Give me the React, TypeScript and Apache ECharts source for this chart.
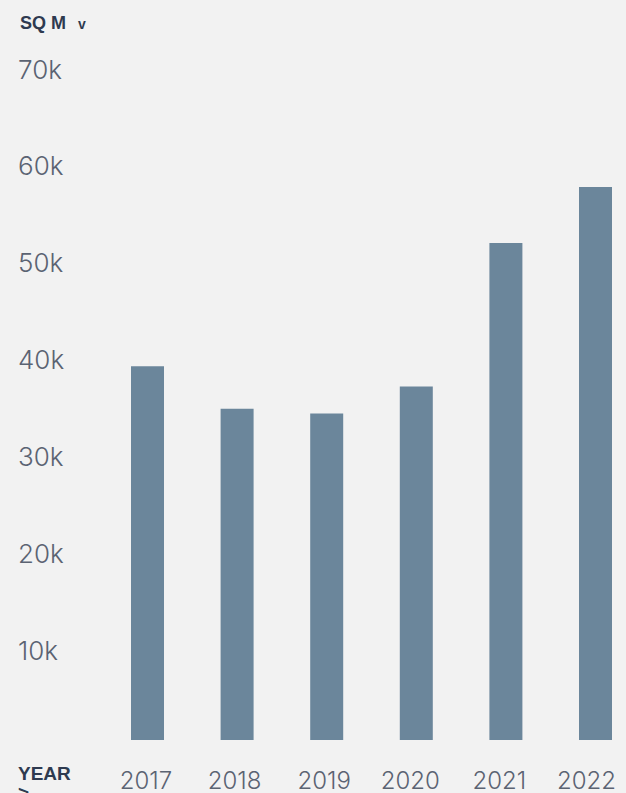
import React, { useEffect, useRef } from "react";
import * as echarts from "echarts";

const years = ["2017", "2018", "2019", "2020", "2021", "2022"];
const areaSqM = [38600, 34200, 33700, 36500, 51300, 57100];
const yTicks = [0, 10000, 20000, 30000, 40000, 50000, 60000, 70000];

// small leftward nudges of the year labels, as in the reference
const labelShift = [1.5, 2.5, 2.5, 6, 6.5, 9];

export default function App() {
  const ref = useRef<HTMLDivElement>(null);
  useEffect(() => {
    if (!ref.current) return;
    const chart = echarts.init(ref.current, undefined, { renderer: "svg" });
    const xRich: Record<string, any> = {};
    labelShift.forEach((s, i) => {
      xRich["l" + i] = {
        fontSize: 24,
        fontFamily: "Inter",
        fontWeight: 300,
        color: "#5b6372",
        padding: [0, 2 * s, 0, 0],
      };
    });
    chart.setOption({
      animation: false,
      backgroundColor: "#f2f2f2",
      grid: {
        left: 102.7,
        width: 537.6,
        top: 62,
        bottom: 53,
        containLabel: false,
        outerBoundsMode: "none",
      },
      xAxis: {
        type: "category",
        data: years,
        axisLine: { show: false },
        axisTick: { show: false },
        axisLabel: {
          margin: 28,
          color: "#5b6372",
          formatter: (v: string, i: number) => "{l" + i + "|" + v + "}",
          rich: xRich,
        },
      },
      yAxis: {
        type: "value",
        min: yTicks[0],
        max: yTicks[yTicks.length - 1],
        interval: 10000,
        splitLine: { show: false },
        axisLine: { show: false },
        axisTick: { show: false },
        axisLabel: {
          align: "left",
          margin: 84.7,
          color: "#5b6372",
          formatter: (v: number) => (v === 0 ? "" : "{v|" + v / 1000 + "k}"),
          rich: {
            v: {
              fontSize: 26,
              fontFamily: "Inter",
              fontWeight: 300,
              color: "#5b6372",
              padding: [14, 0, 0, 0],
            },
          },
        },
      },
      series: [
        {
          type: "bar",
          data: areaSqM,
          barWidth: 33,
          itemStyle: { color: "#6b869b" },
        },
      ],
      graphic: [
        {
          type: "text",
          left: 20,
          top: 14,
          style: {
            text: "SQ M",
            font: "bold 18px 'Liberation Sans', Arial, sans-serif",
            fill: "#2e3a50",
          },
        },
        {
          type: "text",
          left: 78,
          top: 17,
          style: {
            text: "v",
            font: "bold 14px 'Liberation Sans', Arial, sans-serif",
            fill: "#2e3a50",
          },
        },
        {
          type: "text",
          left: 18,
          top: 764,
          style: {
            text: "YEAR\n>",
            lineHeight: 19,
            font: "bold 19px 'Liberation Sans', Arial, sans-serif",
            fill: "#2e3a50",
          },
        },
      ],
    });
    return () => chart.dispose();
  }, []);
  return (
    <div
      ref={ref}
      style={{ position: "fixed", left: 0, top: 0, width: 626, height: 793 }}
    />
  );
}
